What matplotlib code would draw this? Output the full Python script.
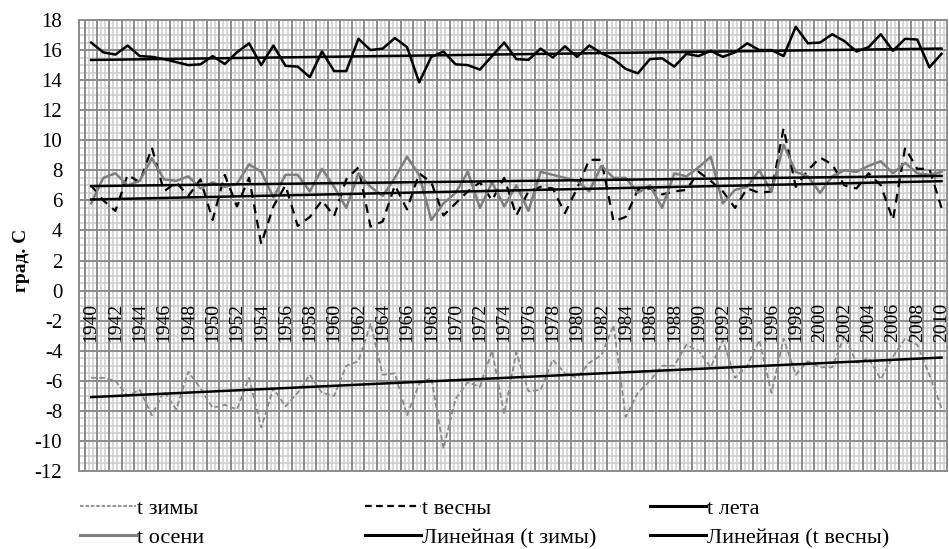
import numpy as np
import matplotlib.pyplot as plt
from matplotlib.lines import Line2D

plt.rcParams['font.family'] = ['Liberation Serif', 'DejaVu Serif']
plt.rcParams['axes.unicode_minus'] = False

years = np.arange(1940, 2011)

t_winter = [-5.8, -5.8, -6.0, -7.0, -6.6, -8.3, -6.7, -7.9, -5.4, -6.5,
            -7.8, -7.6, -7.9, -5.8, -9.1, -6.5, -7.7, -6.8, -5.6, -6.8,
            -7.0, -5.0, -4.7, -2.2, -5.6, -5.5, -8.3, -6.2, -5.8, -10.5,
            -7.2, -6.1, -6.4, -4.0, -8.2, -4.1, -6.7, -6.6, -4.6, -5.5,
            -5.8, -4.8, -4.3, -2.3, -8.4, -6.8, -6.0, -5.0, -5.0, -3.6,
            -4.0, -5.1, -3.3, -5.8, -5.0, -3.3, -6.8, -3.2, -5.6, -4.7,
            -5.1, -5.1, -3.0, -4.8, -4.5, -5.9, -4.4, -3.2, -3.6, -5.6,
            -7.8]

t_spring = [7.0, 6.0, 5.3, 7.7, 7.2, 9.5, 6.6, 7.2, 6.3, 7.4,
            4.7, 7.7, 5.6, 7.5, 3.1, 5.6, 7.0, 4.3, 4.9, 6.0,
            4.95, 7.4, 8.2, 4.25, 4.6, 7.0, 5.4, 7.8, 7.2, 5.0,
            5.8, 6.6, 7.2, 6.0, 7.5, 5.0, 6.6, 6.9, 6.8, 5.15,
            6.8, 8.7, 8.7, 4.6, 4.9, 6.7, 6.8, 6.4, 6.6, 6.7,
            7.9, 7.3, 6.6, 5.5, 6.8, 6.5, 6.6, 10.8, 6.9, 8.0,
            8.85, 8.4, 7.0, 6.8, 7.8, 7.0, 4.7, 9.5, 8.1, 8.1,
            5.5]

t_summer = [16.5, 15.85, 15.7, 16.3, 15.6, 15.55, 15.4, 15.2, 15.0, 15.05,
            15.6, 15.07, 15.85, 16.45, 15.0, 16.3, 14.95, 14.9, 14.2, 15.9,
            14.6, 14.6, 16.75, 16.0, 16.1, 16.8, 16.2, 13.85, 15.55, 15.9,
            15.05, 15.0, 14.7, 15.6, 16.5, 15.4, 15.35, 16.1, 15.5, 16.25,
            15.55, 16.3, 15.8, 15.4, 14.75, 14.45, 15.4, 15.45, 14.9, 15.75,
            15.6, 15.95, 15.55, 15.85, 16.45, 16.0, 16.0, 15.6, 17.55, 16.45,
            16.5, 17.05, 16.6, 15.9, 16.2, 17.05, 15.95, 16.75, 16.7, 14.85,
            15.75]

t_autumn = [5.8, 7.5, 7.8, 7.0, 7.3, 8.8, 7.4, 7.3, 7.6, 6.8,
            7.2, 6.9, 7.1, 8.4, 7.9, 6.2, 7.7, 7.7, 6.6, 8.1,
            6.9, 5.5, 7.8, 6.9, 6.3, 7.5, 8.9, 7.7, 4.7, 5.8,
            6.5, 7.9, 5.5, 7.2, 5.6, 7.0, 5.3, 7.9, 7.7, 7.5,
            7.3, 6.6, 8.3, 7.5, 7.5, 6.5, 7.0, 5.5, 7.8, 7.6,
            8.2, 8.9, 5.8, 6.7, 6.9, 8.0, 6.6, 9.7, 7.9, 7.6,
            6.5, 7.6, 8.0, 7.9, 8.3, 8.6, 7.8, 8.5, 7.8, 7.7,
            7.9]

fig = plt.figure(figsize=(9.49, 5.49), dpi=100)
ax = fig.add_axes([79/949, 1 - 471/549, 868/949, 451/549])

# сетка
for x in np.arange(1939.5, 2011, 1):
    ax.axvline(x, color='#8c8c8c', lw=1.4, zorder=1)
for x in np.arange(1939.5, 2011, 1/3):
    ax.axvline(x, color='#cfcfcf', lw=1.2, zorder=0)
for y in np.arange(-12, 18.01, 0.5):
    ax.axhline(y, color='#cfcfcf', lw=1.2, zorder=0)
for y in np.arange(-12, 18.01, 2):
    ax.axhline(y, color='#8c8c8c', lw=1.4, zorder=1)

ax.plot(years, t_winter, color='#8a8a8a', lw=1.3, ls=(0, (3, 1.5)), zorder=3)
ax.plot(years, t_spring, color='black', lw=1.6, ls=(0, (4, 3)), zorder=3)
ax.plot(years, t_summer, color='black', lw=1.8, zorder=3)
ax.plot(years, t_autumn, color='#7f7f7f', lw=1.8, zorder=3)

# линейные тренды
for s in [t_winter, t_spring, t_summer, t_autumn]:
    k, b = np.polyfit(years, s, 1)
    ax.plot(years, k * years + b, color='black', lw=1.8, zorder=4)

ax.set_xlim(1939.0, 2010.45)
ax.set_ylim(-12, 18)
ax.set_yticks(np.arange(-12, 19, 2))
ax.set_xticks([])
ax.tick_params(axis='y', length=0, labelsize=15, pad=12)
for sp in ax.spines.values():
    sp.set_color('#8c8c8c')
    sp.set_linewidth(1.4)

for yr in range(1940, 2011, 2):
    ax.text(yr, -0.8, str(yr), rotation=90, ha='center', va='top', fontsize=14, zorder=5)

ax.set_ylabel('град. С', fontsize=14, fontweight='bold')
ax.yaxis.set_label_coords(-0.057, 0.468)

h_w = Line2D([], [], color='#8a8a8a', lw=1.3, ls=(0, (2, 1)))
h_s = Line2D([], [], color='black', lw=1.6, ls=(0, (3, 2)))
h_l = Line2D([], [], color='black', lw=2.2)
h_a = Line2D([], [], color='#7f7f7f', lw=2.2)
h_t1 = Line2D([], [], color='black', lw=2.2)
h_t2 = Line2D([], [], color='black', lw=2.2)

cols = [([h_w, h_a], ['t зимы', 't осени'], 80),
        ([h_s, h_t1], ['t весны', 'Линейная (t зимы)'], 365),
        ([h_l, h_t2], ['t лета', 'Линейная (t весны)'], 650)]
for hs, ls, x0 in cols:
    fig.legend(hs, ls, loc='upper left', bbox_to_anchor=(x0/949, 1 - 498/549),
               frameon=False, fontsize=16, handlelength=2.5, handletextpad=0.05,
               labelspacing=0.4, borderaxespad=0, borderpad=0)

fig.savefig('out.png', dpi=100)
